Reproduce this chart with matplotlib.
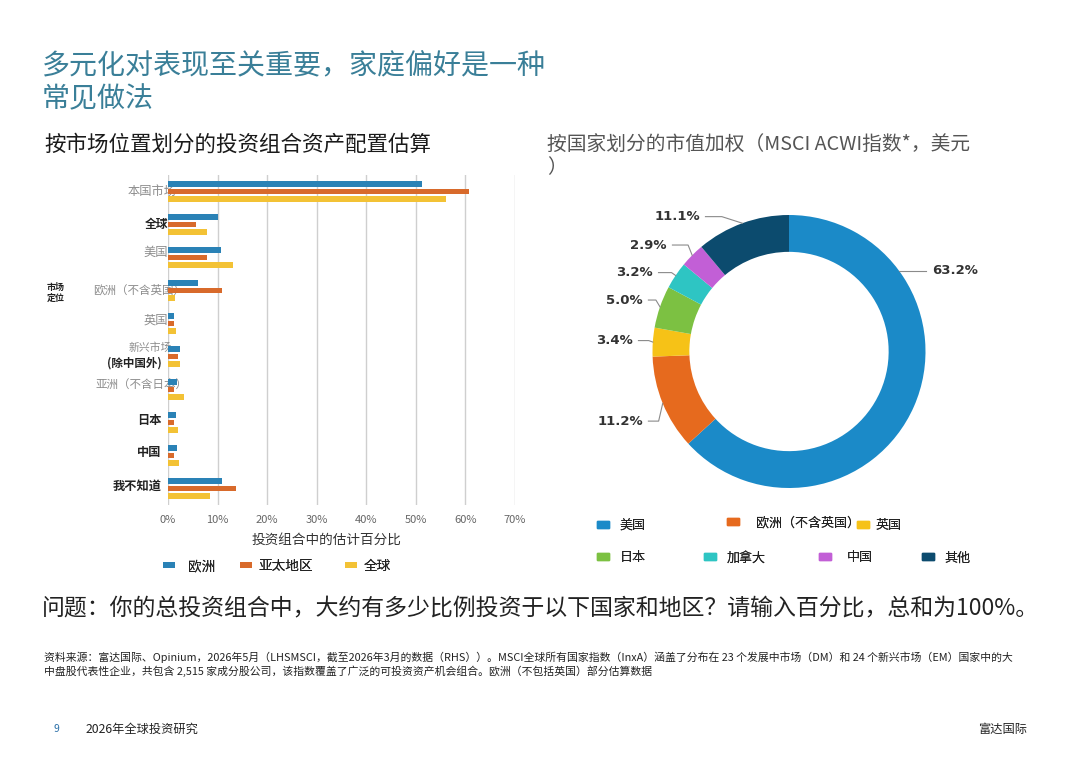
import numpy as np
import matplotlib
matplotlib.use("Agg")
import matplotlib.pyplot as plt
from matplotlib.patches import Rectangle

plt.rcParams['font.family'] = ['Noto Sans CJK SC', 'DejaVu Sans']

# ---------------- data ----------------
bar_categories = ["本国市场", "全球", "美国", "欧洲（不含英国）", "英国", "新兴市场\n(除中国外)",
                  "亚洲（不含日本）", "日本", "中国", "我不知道"]
bar_series = ["欧洲", "亚太地区", "全球"]
europe_vals = [51.2, 10.1, 10.6, 6.1, 1.3, 2.4, 1.9, 1.6, 1.8, 10.9]
apac_vals = [60.7, 5.7, 7.8, 10.9, 1.2, 2.1, 1.3, 1.3, 1.2, 13.8]
global_vals = [56.0, 7.8, 13.1, 1.5, 1.6, 2.4, 3.2, 2.1, 2.3, 8.5]
x_ticks = [0, 10, 20, 30, 40, 50, 60, 70]

pie_labels = ["美国", "欧洲（不含英国）", "英国", "日本", "加拿大", "中国", "其他"]
pie_values = [63.2, 11.2, 3.4, 5.0, 3.2, 2.9, 11.1]

# ---------------- style ----------------
bar_colors = ["#2a82b6", "#d86a2b", "#f3c235"]
pie_colors = ["#1b8ac8", "#e66a1e", "#f6c217", "#7cc142", "#2ec5c3", "#c25fd6", "#0c4b6e"]
W, H = 1080, 764

fig = plt.figure(figsize=(W / 100, H / 100), dpi=100)
fig.patch.set_facecolor("white")


def fx(px):
    return px / W


def fy(py):
    return 1 - py / H


# ---------------- texts ----------------
title_color = "#3a7f98"
fig.text(fx(42), fy(66), "多元化对表现至关重要，家庭偏好是一种", fontsize=20.2,
         color=title_color, va="center", ha="left")
fig.text(fx(42), fy(99), "常见做法", fontsize=20.2, color=title_color, va="center", ha="left")

fig.text(fx(44), fy(145), "按市场位置划分的投资组合资产配置估算", fontsize=15.5,
         color="#1a1a1a", va="center", ha="left")
fig.text(fx(547), fy(145), "按国家划分的市值加权（MSCI ACWI指数*，美元", fontsize=14.2,
         color="#555555", va="center", ha="left")
fig.text(fx(547), fy(168), "）", fontsize=14.2, color="#555555", va="center", ha="left")

fig.text(fx(42), fy(609),
         "问题：你的总投资组合中，大约有多少比例投资于以下国家和地区？请输入百分比，总和为100%。",
         fontsize=16.5, color="#222222", va="center", ha="left")

fig.text(fx(44), fy(657),
         "资料来源：富达国际、Opinium，2026年5月（LHSMSCI，截至2026年3月的数据（RHS））。MSCI全球所有国家指数（InxA）涵盖了分布在 23 个发展中市场（DM）和 24 个新兴市场（EM）国家中的大",
         fontsize=7.8, color="#222222", va="center", ha="left")
fig.text(fx(44), fy(671),
         "中盘股代表性企业，共包含 2,515 家成分股公司，该指数覆盖了广泛的可投资资产机会组合。欧洲（不包括英国）部分估算数据",
         fontsize=7.8, color="#222222", va="center", ha="left")

fig.text(fx(54), fy(729), "9", fontsize=7.5, color="#2a6fa8", va="center", ha="left")
fig.text(fx(86), fy(729), "2026年全球投资研究", fontsize=8.8, color="#222222", va="center", ha="left")
fig.text(fx(1027), fy(729), "富达国际", fontsize=8.8, color="#222222", va="center", ha="right")

# ---------------- bar chart ----------------
ax = fig.add_axes([fx(168), fy(505), (515 - 168) / W, (505 - 175) / H])
y = np.arange(len(bar_categories))
off = 0.215
bh = 0.18
b1 = ax.barh(y - off, europe_vals, height=bh, color=bar_colors[0], zorder=3)
b2 = ax.barh(y, apac_vals, height=bh, color=bar_colors[1], zorder=3)
b3 = ax.barh(y + off, global_vals, height=bh, color=bar_colors[2], zorder=3)
ax.set_xlim(0, 70)
ax.set_ylim(len(bar_categories) - 0.5, -0.5)
ax.set_xticks(x_ticks)
ax.set_xticklabels([f"{t}%" for t in x_ticks], fontsize=8, color="#666666")
ax.set_yticks([])
ax.tick_params(axis="x", length=0, pad=7)
for s in ax.spines.values():
    s.set_visible(False)
ax.grid(axis="x", color="#cfcfcf", lw=1, zorder=0)
ax.set_axisbelow(True)
ax.patch.set_alpha(0)

# category labels (mixed styles like the reference)
gray = "#8c8c8c"
dark = "#222222"
label_specs = [
    # (text, x in %, dy, color, weight, size)
    ("本国市场", 1.75, 0.0, gray, "normal", 8.8),
    ("全球", 0.0, 0.0, dark, "bold", 8.5),
    ("美国", 0.0, -0.15, gray, "normal", 8.8),
    ("欧洲（不含英国）", 3.4, 0.0, gray, "normal", 8.3),
    ("英国", 0.0, -0.1, gray, "normal", 8.8),
    ("新兴市场", 0.75, -0.26, gray, "normal", 7.8),
    ("亚洲（不含日本）", 4.0, -0.14, gray, "normal", 8.3),
    ("日本", -1.3, -0.05, dark, "bold", 8.8),
    ("中国", -1.3, -0.08, dark, "bold", 8.8),
    ("我不知道", -1.2, -0.08, dark, "bold", 8.8),
]
for i, (txt, xx, dy, col, wt, fs) in enumerate(label_specs):
    ax.text(xx, i + dy, txt, ha="right", va="center", fontsize=fs, color=col,
            fontweight=wt, zorder=2, clip_on=False)
ax.text(-1.3, 5 + 0.2, "(除中国外)", ha="right", va="center", fontsize=8.3, color=dark,
        fontweight="bold", clip_on=False)

fig.text(fx(56), fy(293), "市场\n定位", fontsize=6.5, color=dark, fontweight="bold",
         ha="center", va="center", linespacing=1.3)

fig.text(fx(326), fy(540), "投资组合中的估计百分比", fontsize=9.8, color="#333333",
         ha="center", va="center")

# bar legend: one small legend per series, placed like the reference
bar_leg_x = [163, 240, 345]
for h, lab, lx in zip([b1, b2, b3], bar_series, bar_leg_x):
    lg = fig.legend([h], [lab], loc="center left", bbox_to_anchor=(fx(lx), fy(566)),
                    frameon=False, fontsize=9.8, handlelength=0.85, handleheight=0.3,
                    handletextpad=0.5 if lx != bar_leg_x[0] else 1.0, borderaxespad=0,
                    borderpad=0)
    for t in lg.get_texts():
        t.set_color("#222222")
    fig.add_artist(lg)

# ---------------- donut ----------------
R = 136.5
cx, cy = 789, 351.5
half = 200
ax2 = fig.add_axes([fx(cx - half), fy(cy + half), 2 * half / W, 2 * half / H])
wedges, _ = ax2.pie(pie_values, colors=pie_colors, startangle=90, counterclock=False,
                    radius=1.0, wedgeprops=dict(width=0.27, edgecolor="none"))
lim = half / R
ax2.set_xlim(-lim, lim)
ax2.set_ylim(-lim, lim)
ax2.set_aspect("equal")
ax2.axis("off")

# label layout (text positions in donut units)
label_pos = [(1.045, 0.59), (-1.07, -0.51), (-1.143, 0.08), (-1.07, 0.377),
             (-0.996, 0.578), (-0.894, 0.78), (-0.652, 0.988)]
for w, v, (tx, ty) in zip(wedges, pie_values, label_pos):
    mid = np.deg2rad((w.theta1 + w.theta2) / 2)
    axp, ayp = np.cos(mid), np.sin(mid)
    side = 1 if tx > 0 else -1
    if abs(ayp - ty) > 0.3:
        ayp = ty
        axp = side * np.sqrt(max(1 - ty ** 2, 0))
    ha = "left" if side > 0 else "right"
    ax2.text(tx, ty, f"{v:.1f}%", ha=ha, va="center", fontsize=9.5, fontweight="bold",
             color="#333333", family=["DejaVu Sans"])
    start = tx - side * 0.04
    if side < 0:
        elbow = min(start + 0.12, axp - 0.03)
    else:
        elbow = max(start - 0.12, axp + 0.03)
    ax2.plot([start, elbow, axp], [ty, ty, ayp], color="#8a8a8a", lw=0.8)

# donut legend: one entry each, in two rows as in the reference
handles = [Rectangle((0, 0), 1, 1, color=c) for c in pie_colors]
pie_leg_xy = [(597, 526), (727, 523), (857, 526),
              (597, 558), (704, 558), (819, 558), (922, 558)]
pads = [0.8, 1.3, 0.5, 0.8, 0.8, 1.2, 0.8]
for h, lab, (lx, ly), pd in zip(handles, pie_labels, pie_leg_xy, pads):
    lg = fig.legend([h], [lab], loc="center left", bbox_to_anchor=(fx(lx), fy(ly)),
                    frameon=False, fontsize=9.4, handlelength=0.95, handleheight=0.45,
                    handletextpad=pd, borderaxespad=0, borderpad=0)
    for t in lg.get_texts():
        t.set_color("#222222")
    fig.add_artist(lg)

fig.savefig("out.png", dpi=100, facecolor="white")
